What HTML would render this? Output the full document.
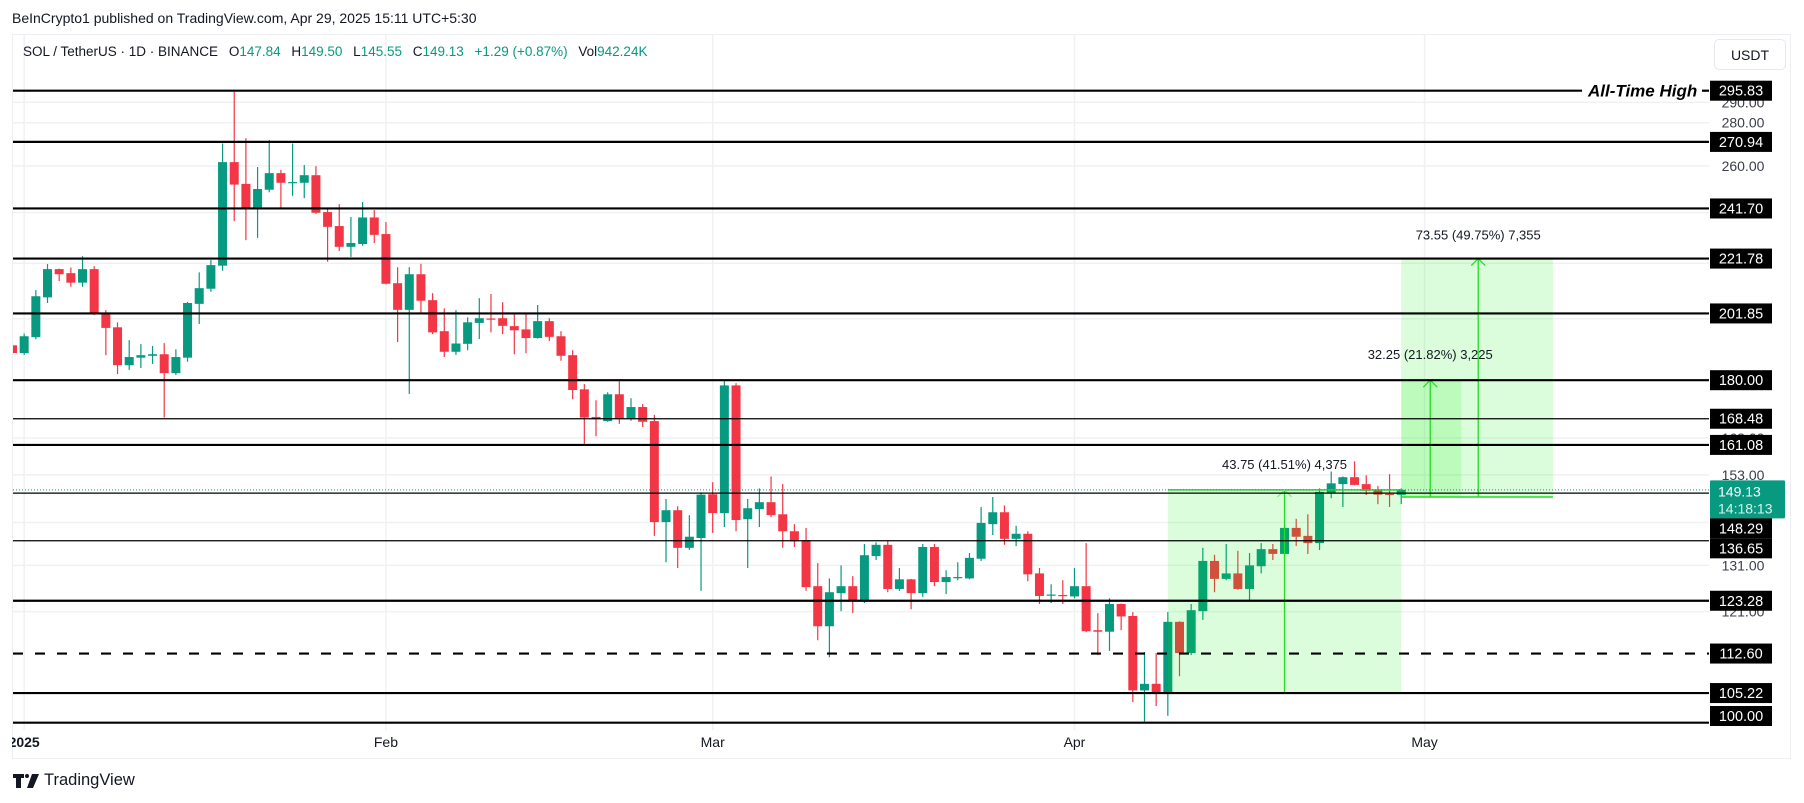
<!DOCTYPE html>
<html><head><meta charset="utf-8"><title>SOL/USDT chart</title>
<style>
html,body{margin:0;padding:0;background:#fff;}
body{width:1804px;height:803px;overflow:hidden;position:relative;font-family:"Liberation Sans",sans-serif;color:#131722;}
#hdr{position:absolute;left:12px;top:10px;font-size:14px;white-space:nowrap;}
#legend{position:absolute;left:23px;top:44px;font-size:13.5px;white-space:nowrap;}
#legend .g{color:#089981;}
#legend span.sp{display:inline-block;width:7px;}
#frame{position:absolute;left:12px;top:34px;width:1779px;height:725px;border:1.5px solid #eceef2;box-sizing:border-box;}
#usdt{position:absolute;left:1714px;top:39px;width:72px;height:31px;border:1px solid #e6e8ee;border-radius:5px;box-sizing:border-box;font-size:14px;text-align:center;line-height:30px;}
#tv{position:absolute;left:13px;top:771px;font-size:16.5px;display:flex;align-items:center;}
svg{position:absolute;left:0;top:0;}
</style></head>
<body>
<div id="hdr">BeInCrypto1 published on TradingView.com, Apr 29, 2025 15:11 UTC+5:30</div>
<div id="frame"></div>
<svg id="chart" width="1804" height="803"></svg>
<div id="legend">SOL / TetherUS · 1D · BINANCE<span class="sp"></span> O<span class="g">147.84</span><span class="sp"></span> H<span class="g">149.50</span><span class="sp"></span> L<span class="g">145.55</span><span class="sp"></span> C<span class="g">149.13</span><span class="sp"></span> <span class="g">+1.29 (+0.87%)</span><span class="sp"></span> Vol<span class="g">942.24K</span></div>
<div id="usdt">USDT</div>
<div id="tv"><svg width="26" height="14" viewBox="0 0 26 14" style="position:static;margin-right:5px"><path d="M0 0h11v4H8v10H3V4H0z" fill="#131722"/><circle cx="14" cy="2" r="2" fill="#131722"/><path d="M19 0h7l-6 14h-6z" fill="#131722"/></svg>TradingView</div>
<script>
// ---- data ----
const opens = [191.1,188.6,193.8,207.5,217.8,216.3,212.8,217.8,202.0,197.1,184.7,187.1,187.7,188.2,182.2,187.1,205.2,210.6,219.1,261.7,252.1,241.8,249.6,256.8,252.6,252.6,255.9,240.2,234.5,226.3,227.4,238.0,231.3,212.6,203.1,215.9,206.5,195.8,189.0,191.6,198.6,200.1,200.2,197.5,196.4,193.5,199.2,194.1,187.9,177.2,169.0,167.8,175.7,168.4,171.9,167.8,141.1,144.0,135.0,137.3,148.0,143.3,178.4,141.8,144.3,146.0,143.0,138.9,136.8,126.4,118.0,124.9,126.4,123.4,133.1,135.7,125.8,127.9,124.9,135.2,127.3,128.3,128.1,132.5,140.6,143.5,137.1,138.3,129.2,124.5,124.5,124.2,126.4,117.2,116.9,122.6,120.1,105.7,106.9,105.3,118.9,112.7,121.1,132.0,128.0,129.2,125.8,130.8,134.7,133.6,139.7,137.8,136.1,148.3,150.6,152.4,150.6,149.1,148.1,147.84];
const highs = [191.8,195.0,210.1,219.7,218.0,218.4,222.7,218.9,203.0,198.8,192.8,191.5,190.9,191.8,189.8,205.9,216.6,221.2,270.2,295.3,272.7,259.5,271.8,258.2,270.2,260.4,259.9,242.1,243.5,238.2,244.4,241.0,236.1,218.5,218.5,219.8,209.0,203.6,203.0,200.5,207.2,208.7,205.8,202.0,202.0,204.8,200.2,195.8,189.5,178.8,173.9,176.3,180.3,174.5,172.8,169.6,146.8,145.0,142.8,148.5,151.1,179.7,179.1,146.8,149.5,152.6,150.6,140.6,139.7,131.5,128.1,131.0,128.6,135.9,136.3,136.6,130.4,128.0,135.9,135.9,129.9,131.7,133.8,144.8,147.3,145.2,140.2,138.9,130.4,126.8,127.7,130.4,136.1,120.7,123.8,122.7,120.9,112.9,112.7,120.9,119.0,122.6,135.0,133.4,135.9,134.3,133.8,136.1,135.9,140.4,141.9,143.0,149.5,153.9,152.6,156.6,152.9,150.1,153.2,149.50];
const lows = [188.2,188.0,193.1,205.5,213.4,211.3,211.3,201.3,187.9,181.9,183.2,183.8,185.1,168.8,181.6,185.8,198.2,209.5,217.2,236.5,228.9,229.8,248.5,241.8,247.0,246.0,239.5,220.6,224.7,222.4,226.7,227.8,212.2,192.2,175.8,201.7,194.8,187.3,188.0,189.5,193.2,195.4,194.8,188.2,188.5,193.3,192.5,186.1,174.2,161.0,163.5,167.6,167.0,167.9,166.1,137.8,131.7,130.4,134.5,125.4,138.5,139.9,138.9,130.4,139.9,142.3,135.0,135.2,125.4,115.2,111.9,121.1,120.7,122.8,132.2,125.1,125.4,121.5,124.1,126.4,124.7,127.7,127.9,132.0,138.0,135.7,135.4,127.5,122.6,122.8,122.6,123.8,116.8,112.3,113.1,117.2,103.6,100.0,102.9,101.2,108.3,112.3,119.3,125.1,127.7,125.6,123.4,129.2,132.2,133.5,135.4,133.6,134.5,147.0,144.8,150.3,147.8,145.5,144.8,145.55];
const closes = [188.6,194.1,207.9,217.8,215.9,212.8,217.8,201.6,196.9,184.7,187.3,187.9,188.2,182.2,187.3,205.5,210.8,219.3,261.7,251.8,241.8,249.9,256.8,252.6,252.9,255.9,239.9,234.2,226.3,227.8,238.0,231.0,212.4,203.1,215.9,206.3,195.4,189.0,191.7,198.8,200.2,200.0,197.6,196.1,193.5,199.2,193.9,187.7,177.0,168.8,168.4,175.7,168.4,171.9,167.6,141.1,144.0,135.0,137.6,147.9,143.3,178.4,141.6,144.5,146.0,142.8,138.9,136.5,126.2,118.0,125.1,126.4,123.4,133.3,135.7,125.8,127.9,124.9,135.2,127.3,128.4,128.4,132.7,140.9,143.5,137.1,138.3,129.0,124.3,124.6,124.4,126.4,117.0,116.9,122.6,120.0,105.7,106.9,105.3,118.9,112.7,121.3,132.0,128.0,129.2,125.8,131.0,134.7,133.6,139.7,137.6,136.1,148.6,150.8,152.4,150.4,148.9,147.9,147.84,149.13];
const levels = [295.83,270.94,241.70,221.78,201.85,180.00,168.48,161.08,148.29,136.65,123.28,112.60,105.22,100.00];
const levelStyles = ['thick','thick','thick','thick','thick','thick','thin','thick','thin','thin','thick','dashed','thick','thick'];
const tickValues = [290,280,260,240,220,200,163,153,141,131,121];
const tickLabels = ['290.00','280.00','260.00','','','','163.00','153.00','','131.00','121.00'];
const monthLabels = ['2025','Feb','Mar','Apr','May'];
const monthDays = [1,32,60,91,121];
const lastPrice = 149.13;
const countdown = '14:18:13';
// position tool (prices)
const longEntry = 149.13, longStop = 105.22, longTarget1 = 180.00, longTarget2 = 221.78;
const toolStartDay = 99, toolMidDay = 109, toolEndDay = 119, toolRightEnd = 132;
const toolLabels = ['43.75 (41.51%) 4,375','32.25 (21.82%) 3,225','73.55 (49.75%) 7,355'];
const toolLeftTop = 149.13, toolLeftBottom = 105.22, toolRightBottom = 147.3;

// ---- scales ----
const PL = 13, PR = 1709, PT = 34, PB = 730;
const Y0 = 90.7, KY = 582.7, REF = 295.83;
function y(p){ return Y0 + Math.log(REF / p) * KY; }
function x(d){ return 12.5 + d * 11.67; }

const NS = 'http://www.w3.org/2000/svg';
const svg = document.getElementById('chart');
function el(tag, attrs, parent){
  const e = document.createElementNS(NS, tag);
  for (const k in attrs) e.setAttribute(k, attrs[k]);
  (parent || svg).appendChild(e);
  return e;
}
const defs = el('defs', {});
const cp = el('clipPath', {id:'plotclip'}, defs);
el('rect', {x:PL, y:PT, width:PR-PL, height:PB-PT}, cp);

// grid
const grid = el('g', {});


tickValues.forEach(v => {
  const gl = el('line', {x1:PL, x2:PR, y1:y(v), y2:y(v), stroke:'#f0f1f4', 'stroke-width':1.5}, grid);
  
  
});
monthDays.forEach(d => {
  const gl = el('line', {x1:x(d), x2:x(d), y1:PT, y2:PB, stroke:'#f0f1f4', 'stroke-width':1.5}, grid);
  
  
});

// candles
const cg = el('g', {'clip-path':'url(#plotclip)'});


for (let i = 0; i < closes.length; i++){
  const up = closes[i] >= opens[i];
  const col = up ? '#089981' : '#f23645';
  const cx = x(i);
  const g = el('g', {}, cg);
  
  
  el('line', {x1:cx, x2:cx, y1:y(highs[i]), y2:y(lows[i]), stroke:col, 'stroke-width':1.2}, g);
  const top = y(Math.max(opens[i], closes[i])), bot = y(Math.min(opens[i], closes[i]));
  el('rect', {x:cx-4.5, y:top, width:9, height:Math.max(bot-top, 1.2), fill:col}, g);
}

// position tool overlays
const tg = el('g', {});


const lx1 = x(toolStartDay), lx2 = x(toolEndDay), rx2 = x(toolRightEnd), mx = x(toolMidDay);
const ltop = y(toolLeftTop), lbot = y(toolLeftBottom);
const r1 = el('rect', {x:lx1, y:ltop, width:lx2-lx1, height:lbot-ltop, fill:'rgba(0,240,0,0.14)'}, tg);


el('line', {x1:lx1, x2:lx2, y1:ltop, y2:ltop, stroke:'#22dd22', 'stroke-width':1.5}, tg);
el('line', {x1:lx1, x2:lx2, y1:lbot, y2:lbot, stroke:'#22dd22', 'stroke-width':1.5}, tg);
el('line', {x1:mx, x2:mx, y1:lbot, y2:ltop, stroke:'#22dd22', 'stroke-width':1.3}, tg);
el('polyline', {points:`${mx-7},${ltop+7} ${mx},${ltop} ${mx+7},${ltop+7}`, fill:'none', stroke:'#7fea7f', 'stroke-width':1.2}, tg);
const rb = y(toolRightBottom), t1 = y(longTarget1), t2 = y(longTarget2);
const t1x = lx2 + 29, t2x = lx2 + 77;
const r2 = el('rect', {x:lx2, y:t2, width:rx2-lx2, height:rb-t2, fill:'rgba(0,240,0,0.14)'}, tg);


const r3 = el('rect', {x:lx2, y:t1, width:60, height:rb-t1, fill:'rgba(0,240,0,0.14)'}, tg);


el('line', {x1:lx2, x2:rx2, y1:rb, y2:rb, stroke:'#22dd22', 'stroke-width':1.5}, tg);
el('line', {x1:lx2, x2:lx2+60, y1:t1, y2:t1, stroke:'#22dd22', 'stroke-width':1.3}, tg);
el('line', {x1:lx2, x2:rx2, y1:t2, y2:t2, stroke:'#22dd22', 'stroke-width':1.3}, tg);
el('line', {x1:t1x, x2:t1x, y1:rb, y2:t1, stroke:'#22dd22', 'stroke-width':1.3}, tg);
el('polyline', {points:`${t1x-7},${t1+7} ${t1x},${t1} ${t1x+7},${t1+7}`, fill:'none', stroke:'#22dd22', 'stroke-width':1.2}, tg);
el('line', {x1:t2x, x2:t2x, y1:rb, y2:t2, stroke:'#22dd22', 'stroke-width':1.3}, tg);
el('polyline', {points:`${t2x-7},${t2+7} ${t2x},${t2} ${t2x+7},${t2+7}`, fill:'none', stroke:'#22dd22', 'stroke-width':1.2}, tg);
[[mx, ltop-21, 0],[t1x, t1-21, 1],[t2x, t2-19, 2]].forEach(a => {
  const t = el('text', {x:a[0], y:a[1], 'text-anchor':'middle', 'font-size':13, fill:'#131722', 'font-family':'Liberation Sans, sans-serif'}, tg);
  t.textContent = toolLabels[a[2]];
  
  
});

// level lines
const lg = el('g', {});


levels.forEach((v, i) => {
  const st = levelStyles[i];
  const yy = y(v);
  const xe = i === 0 ? 1582 : PR;
  const ln = el('line', {x1:PL, x2:xe, y1:yy, y2:yy, stroke:'#000', 'stroke-width': st === 'thin' ? 1.2 : 2.2}, lg);
  if (st === 'dashed') ln.setAttribute('stroke-dasharray', '10,12');
  
  
  if (i === 0) el('line', {x1:1702, x2:PR, y1:yy, y2:yy, stroke:'#000', 'stroke-width':2.2}, lg);
});
const ath = el('text', {x:1588, y:y(levels[0])+6, 'font-size':17, 'font-weight':'bold', 'font-style':'italic', fill:'#000', 'font-family':'Liberation Sans, sans-serif'});
ath.textContent = 'All-Time High';



// current price dotted
const cpl = el('line', {x1:PL, x2:PR, y1:y(lastPrice), y2:y(lastPrice), stroke:'#089981', 'stroke-width':1, 'stroke-dasharray':'1,2'});



// price axis
const ax = el('g', {});


tickValues.forEach((v, i) => {
  if (!tickLabels[i]) return;
  const t = el('text', {x:1743, y:y(v)+5, 'text-anchor':'middle', 'font-size':14, fill:'#3a3e4a', 'font-family':'Liberation Sans, sans-serif'}, ax);
  t.textContent = tickLabels[i];
  
  
});
// label boxes with collision handling (current price badge has priority)
const boxes = levels.map(v => ({v:v, key:y(v), c:y(v), h:20, kind:'level'}));
boxes.push({v:lastPrice, key:y(lastPrice)-5, c:y(lastPrice)+9.5, h:38, kind:'price'});
boxes.sort((a,b) => a.key - b.key);
let prevBot = 0;
boxes.forEach(b => {
  let top = b.c - b.h/2;
  if (b.kind === 'level' && top < prevBot) top = prevBot;
  if (top + b.h > 726) top = 726 - b.h;
  b.top = top; prevBot = top + b.h;
});
boxes.forEach(b => {
  const g = el('g', {}, ax);
  if (b.kind === 'price'){
    
    
    el('rect', {x:1710, y:b.top, width:75, height:b.h, fill:'#089981', rx:1}, g);
    const t1e = el('text', {x:1718, y:b.top+16, 'font-size':14, fill:'#fff', 'font-family':'Liberation Sans, sans-serif'}, g);
    t1e.textContent = lastPrice.toFixed(2);
    const t2e = el('text', {x:1718, y:b.top+33, 'font-size':14, fill:'#d8f3ec', 'font-family':'Liberation Sans, sans-serif'}, g);
    t2e.textContent = countdown;
  } else {
    
    
    el('rect', {x:1710, y:b.top, width:62, height:b.h, fill:'#000'}, g);
    const t = el('text', {x:1741, y:b.top+15, 'text-anchor':'middle', 'font-size':14.5, fill:'#fff', 'font-family':'Liberation Sans, sans-serif'}, g);
    t.textContent = b.v.toFixed(2);
  }
});

// time axis
const tx = el('g', {});


monthLabels.forEach((m, i) => {
  const t = el('text', {x:x(monthDays[i]), y:747, 'text-anchor':'middle', 'font-size':14, fill:'#131722', 'font-family':'Liberation Sans, sans-serif'}, tx);
  if (i === 0) t.setAttribute('font-weight', 'bold');
  t.textContent = m;
  
  
});
// cover left of plot for clipped year label
el('rect', {x:0, y:730, width:12, height:28, fill:'#fff'});
</script>
</body></html>
